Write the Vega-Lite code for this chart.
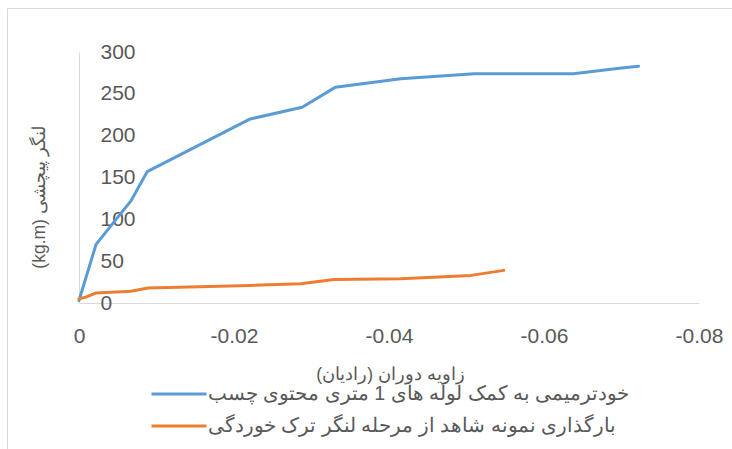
{
  "$schema": "https://vega.github.io/schema/vega-lite/v6.json",
  "width": 725,
  "height": 441,
  "autosize": "none",
  "padding": {"left": 7, "top": 8, "right": 0, "bottom": 0},
  "background": "white",
  "config": {
    "font": "Liberation Sans",
    "view": {"stroke": "#d9d9d9", "strokeWidth": 1}
  },
  "data": {
    "values": [
      {"series": "خودترمیمی به کمک لوله های 1 متری محتوی چسب", "angle": 0, "torque": 3},
      {"series": "خودترمیمی به کمک لوله های 1 متری محتوی چسب", "angle": -0.0022, "torque": 70},
      {"series": "خودترمیمی به کمک لوله های 1 متری محتوی چسب", "angle": -0.0067, "torque": 122},
      {"series": "خودترمیمی به کمک لوله های 1 متری محتوی چسب", "angle": -0.0088, "torque": 157},
      {"series": "خودترمیمی به کمک لوله های 1 متری محتوی چسب", "angle": -0.0221, "torque": 220},
      {"series": "خودترمیمی به کمک لوله های 1 متری محتوی چسب", "angle": -0.0288, "torque": 234},
      {"series": "خودترمیمی به کمک لوله های 1 متری محتوی چسب", "angle": -0.0331, "torque": 258},
      {"series": "خودترمیمی به کمک لوله های 1 متری محتوی چسب", "angle": -0.0415, "torque": 268},
      {"series": "خودترمیمی به کمک لوله های 1 متری محتوی چسب", "angle": -0.051, "torque": 274},
      {"series": "خودترمیمی به کمک لوله های 1 متری محتوی چسب", "angle": -0.0638, "torque": 274},
      {"series": "خودترمیمی به کمک لوله های 1 متری محتوی چسب", "angle": -0.07, "torque": 281},
      {"series": "خودترمیمی به کمک لوله های 1 متری محتوی چسب", "angle": -0.0722, "torque": 283},
      {"series": "بارگذاری نمونه شاهد از مرحله لنگر ترک خوردگی", "angle": 0, "torque": 5},
      {"series": "بارگذاری نمونه شاهد از مرحله لنگر ترک خوردگی", "angle": -0.0009, "torque": 7},
      {"series": "بارگذاری نمونه شاهد از مرحله لنگر ترک خوردگی", "angle": -0.0022, "torque": 12},
      {"series": "بارگذاری نمونه شاهد از مرحله لنگر ترک خوردگی", "angle": -0.0067, "torque": 14},
      {"series": "بارگذاری نمونه شاهد از مرحله لنگر ترک خوردگی", "angle": -0.0089, "torque": 18},
      {"series": "بارگذاری نمونه شاهد از مرحله لنگر ترک خوردگی", "angle": -0.0221, "torque": 21},
      {"series": "بارگذاری نمونه شاهد از مرحله لنگر ترک خوردگی", "angle": -0.0286, "torque": 23},
      {"series": "بارگذاری نمونه شاهد از مرحله لنگر ترک خوردگی", "angle": -0.0329, "torque": 28},
      {"series": "بارگذاری نمونه شاهد از مرحله لنگر ترک خوردگی", "angle": -0.0415, "torque": 29},
      {"series": "بارگذاری نمونه شاهد از مرحله لنگر ترک خوردگی", "angle": -0.0506, "torque": 33},
      {"series": "بارگذاری نمونه شاهد از مرحله لنگر ترک خوردگی", "angle": -0.0548, "torque": 39}
    ]
  },
  "mark": {"type": "line", "strokeWidth": 3, "strokeCap": "round", "strokeJoin": "round"},
  "encoding": {
    "x": {
      "field": "angle",
      "type": "quantitative",
      "scale": {"domain": [-0.08, 0], "range": [692, 72], "nice": false, "zero": false},
      "axis": {
        "orient": "bottom",
        "offset": -146,
        "values": [0, -0.02, -0.04, -0.06, -0.08],
        "format": "~g",
        "labelExpr": "replace(datum.label, '\u2212', '-')",
        "grid": false,
        "ticks": false,
        "tickSize": 0,
        "domainColor": "#d9d9d9",
        "domainWidth": 1,
        "labelFont": "Liberation Sans",
        "labelFontSize": 21,
        "labelColor": "#595959",
        "labelBaseline": "middle",
        "labelPadding": 33,
        "labelFlush": false,
        "labelOverlap": false,
        "title": "زاویه دوران (رادیان)‏",
        "titleFont": "Liberation Sans",
        "titleFontSize": 17.5,
        "titleFontWeight": "normal",
        "titleColor": "#595959",
        "titleAnchor": null,
        "titleX": 383,
        "titleY": 71,
        "titleAlign": "center",
        "titleBaseline": "middle"
      }
    },
    "y": {
      "field": "torque",
      "type": "quantitative",
      "scale": {"domain": [0, 300], "range": [295, 44], "nice": false, "zero": false},
      "axis": {
        "orient": "left",
        "offset": -72,
        "values": [0, 50, 100, 150, 200, 250, 300],
        "grid": false,
        "ticks": false,
        "tickSize": 0,
        "domainColor": "#d9d9d9",
        "domainWidth": 1,
        "labelFont": "Liberation Sans",
        "labelFontSize": 21,
        "labelColor": "#595959",
        "labelAlign": "left",
        "labelBaseline": "middle",
        "labelPadding": -21,
        "labelFlush": false,
        "labelOverlap": false,
        "title": "(kg.m) لنگر پیچشی",
        "titleFont": "Liberation Sans",
        "titleFontSize": 17.5,
        "titleFontWeight": "normal",
        "titleColor": "#595959",
        "titleAngle": -90,
        "titleAnchor": null,
        "titleX": -40,
        "titleY": 189,
        "titleAlign": "center",
        "titleBaseline": "middle"
      }
    },
    "color": {
      "field": "series",
      "type": "nominal",
      "sort": ["خودترمیمی به کمک لوله های 1 متری محتوی چسب", "بارگذاری نمونه شاهد از مرحله لنگر ترک خوردگی"],
      "scale": {
        "domain": ["خودترمیمی به کمک لوله های 1 متری محتوی چسب", "بارگذاری نمونه شاهد از مرحله لنگر ترک خوردگی"],
        "range": ["#5b9bd5", "#ed7d31"]
      },
      "legend": {
        "title": null,
        "orient": "none",
        "legendX": 143,
        "legendY": 370,
        "direction": "vertical",
        "padding": 0,
        "symbolType": "stroke",
        "symbolSize": 3025,
        "symbolStrokeWidth": 3,
        "clipHeight": 32,
        "rowPadding": 0,
        "labelOffset": 0,
        "labelFont": "Liberation Sans",
        "labelFontSize": 19.6,
        "labelColor": "#595959",
        "labelLimit": 0
      }
    }
  }
}
